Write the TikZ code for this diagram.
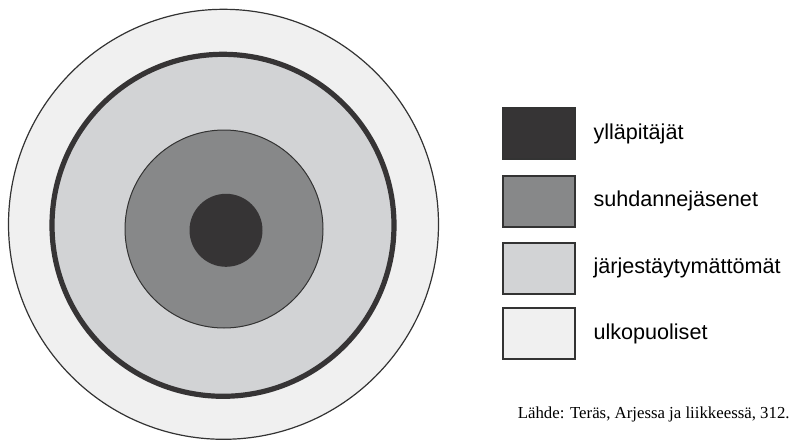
\documentclass[tikz,border=0pt]{standalone}
\usepackage{fontspec}
\setmainfont{Liberation Serif}
\setsansfont{Liberation Sans}
\definecolor{ydin}{HTML}{363435}
\definecolor{suhdanne}{HTML}{878889}
\definecolor{jarj}{HTML}{D2D3D5}
\definecolor{ulko}{HTML}{F0F0F0}
\definecolor{viiva}{HTML}{333333}
\tikzset{
  legbox/.style={draw=viiva, line width=1pt, minimum width=36pt, minimum height=25.5pt, inner sep=0pt},
  legtext/.style={font=\sffamily\fontsize{10.8}{13}\selectfont, anchor=west, inner sep=0pt}
}
\begin{document}
\begin{tikzpicture}[x=0.5pt,y=0.5pt]
\useasboundingbox (0,0) rectangle (794,441);

% renkaat
\draw[viiva, fill=ulko, line width=0.6pt] (223.5,216.7) circle (215);
\draw[ydin, fill=jarj, line width=2.6pt] (223,215.7) circle (171);
\draw[viiva, fill=suhdanne, line width=0.5pt] (224,212) circle (99);
\fill[ydin] (226,210.7) circle (36.5);

% selite
\foreach \i/\y/\c/\t in {1/307.2/ydin/ylläpitäjät,
                         2/239.8/suhdanne/suhdannejäsenet,
                         3/173/jarj/järjestäytymättömät,
                         4/107.2/ulko/ulkopuoliset}{
\node[legbox, fill=\c] (box\i) at (539.3,\y) {};
\node[legtext] (lab\i) at ([xshift=8.4pt]box\i.east) {\t};
}

\node[anchor=base east, inner sep=0pt, font=\fontsize{8.4}{10}\selectfont] (lahde) at (790,23) {Lähde: Teräs, Arjessa ja liikkeessä, 312.};

\end{tikzpicture}
\end{document}
